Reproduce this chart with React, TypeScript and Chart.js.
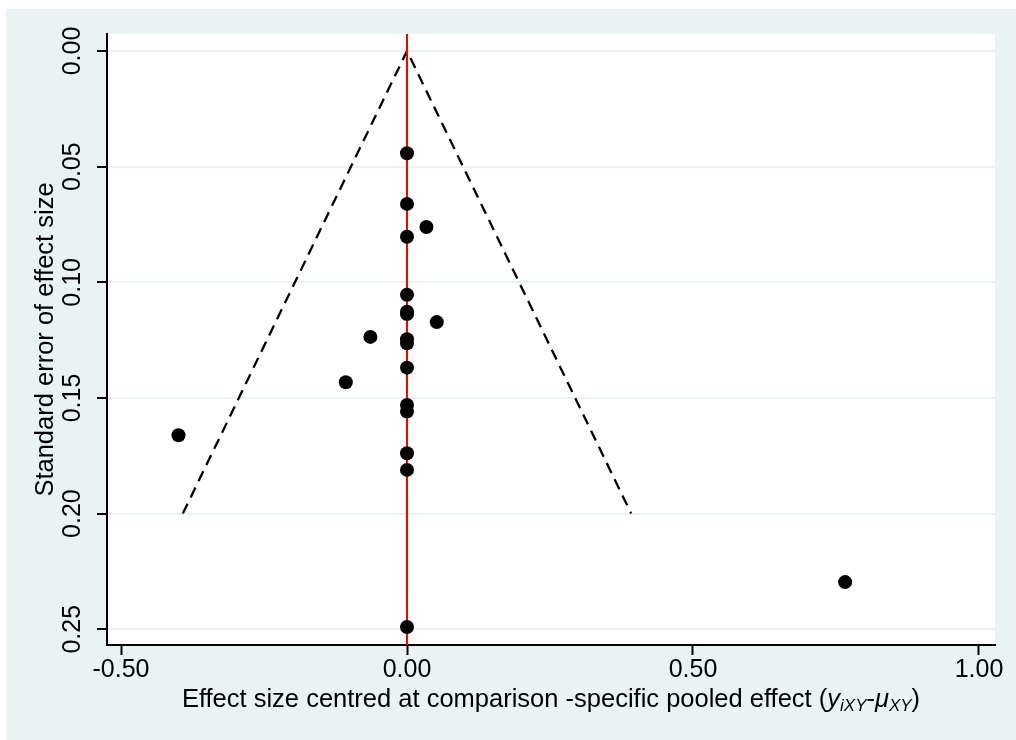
import React, { useEffect, useRef } from "react";
import { Chart, registerables } from "chart.js";

Chart.register(...registerables);

// Study-level points: centred effect size (x) and its standard error (y)
const effectSizes = [0, 0, 0.034, 0, 0, 0, 0, 0.052, -0.064, 0, 0, 0, -0.107, 0, 0, -0.3995, 0, 0, 0.766, 0];
const standardErrors = [0.0442, 0.0661, 0.0761, 0.0803, 0.1054, 0.1127, 0.1137, 0.1172, 0.1236, 0.1246, 0.1264, 0.1369, 0.1432, 0.153, 0.1559, 0.1661, 0.1739, 0.1811, 0.2296, 0.249];

// Pseudo 95% confidence funnel (±1.96·SE)
const funnelX = [-0.392, 0, 0.392];
const funnelY = [0.2, 0, 0.2];

// Axis ticks and ranges
const xTicks = [-0.5, 0, 0.5, 1.0];
const yTicks = [0, 0.05, 0.1, 0.15, 0.2, 0.25];
const xRange = [-0.5245, 1.028];
const yRange = [-0.00735, 0.2568];

const yTitle = "Standard error of effect size";
const xTitleParts = [
  { text: "Effect size centred at comparison -specific pooled effect (", italic: false, sub: false },
  { text: "y", italic: true, sub: false },
  { text: "iXY", italic: true, sub: true },
  { text: "-", italic: false, sub: false },
  { text: "μ", italic: true, sub: false },
  { text: "XY", italic: true, sub: true },
  { text: ")", italic: false, sub: false },
];

const FONT = '"Liberation Sans", Arial, sans-serif';
const OUTER_BG = "#eaf2f3";

const backgroundPlugin = {
  id: "stataBackground",
  beforeDraw(chart: any) {
    const { ctx, chartArea } = chart;
    ctx.save();
    ctx.fillStyle = "#ffffff";
    ctx.fillRect(0, 0, chart.width, chart.height);
    ctx.fillStyle = OUTER_BG;
    ctx.fillRect(6, 9, chart.width - 6, chart.height - 9);
    ctx.fillStyle = "#ffffff";
    ctx.fillRect(chartArea.left, chartArea.top, chartArea.right - chartArea.left, chartArea.bottom - chartArea.top);
    ctx.restore();
  },
};

const xTitlePlugin = {
  id: "richXTitle",
  afterDraw(chart: any) {
    const { ctx, chartArea } = chart;
    const mainSize = 25.5;
    const subSize = 17;
    const fontFor = (p: any) => `${p.italic ? "italic " : ""}${p.sub ? subSize : mainSize}px ${FONT}`;
    ctx.save();
    ctx.fillStyle = "#000000";
    ctx.textBaseline = "alphabetic";
    ctx.textAlign = "left";
    let total = 0;
    const widths = xTitleParts.map((p) => {
      ctx.font = fontFor(p);
      const w = ctx.measureText(p.text).width;
      total += w;
      return w;
    });
    let x = (chartArea.left + chartArea.right) / 2 - total / 2;
    const baseline = chartArea.bottom + 62;
    xTitleParts.forEach((p, i) => {
      ctx.font = fontFor(p);
      ctx.fillText(p.text, x, baseline + (p.sub ? 4 : 0));
      x += widths[i];
    });
    ctx.restore();
  },
};

export default function App() {
  const canvasRef = useRef<HTMLCanvasElement | null>(null);

  useEffect(() => {
    document.body.style.margin = "0";
    const canvas = canvasRef.current;
    if (!canvas) return;

    const points = effectSizes.map((x, i) => ({ x, y: standardErrors[i] }));
    const funnel = funnelX.map((x, i) => ({ x, y: funnelY[i] }));
    const zeroLine = [
      { x: 0, y: yRange[0] },
      { x: 0, y: yRange[1] },
    ];

    const chart = new Chart(canvas, {
      type: "scatter",
      data: {
        datasets: [
          {
            label: "Studies",
            data: points,
            backgroundColor: "#000000",
            borderColor: "#000000",
            borderWidth: 0,
            pointRadius: 7,
            pointHoverRadius: 7,
          },
          {
            label: "Zero line",
            data: zeroLine,
            showLine: true,
            borderColor: "#ff0000",
            borderWidth: 2,
            pointRadius: 0,
            fill: false,
          },
          {
            label: "Funnel",
            data: funnel,
            showLine: true,
            borderColor: "#000000",
            borderWidth: 2.3,
            borderDash: [11, 7],
            pointRadius: 0,
            fill: false,
            tension: 0,
          },
        ],
      },
      options: {
        responsive: false,
        animation: false,
        devicePixelRatio: 1,
        layout: { padding: { left: 0, top: 34, right: 21, bottom: 0 } },
        plugins: {
          legend: { display: false },
          tooltip: { enabled: false },
          title: { display: false },
        },
        scales: {
          x: {
            type: "linear",
            min: xRange[0],
            max: xRange[1],
            afterBuildTicks: (scale: any) => {
              scale.ticks = xTicks.map((v) => ({ value: v }));
            },
            afterFit: (scale: any) => {
              scale.height = 95;
            },
            ticks: {
              color: "#000000",
              font: { family: FONT, size: 25 },
              padding: 0,
              minRotation: 0,
              maxRotation: 0,
              autoSkip: false,
              callback: (v: any) => Number(v).toFixed(2),
            },
            grid: {
              drawOnChartArea: false,
              drawTicks: true,
              tickLength: 10,
              tickColor: "#000000",
              tickWidth: 2,
            },
            border: { display: true, color: "#000000", width: 2 },
            title: { display: false },
          },
          y: {
            type: "linear",
            reverse: true,
            min: yRange[0],
            max: yRange[1],
            afterBuildTicks: (scale: any) => {
              scale.ticks = yTicks.map((v) => ({ value: v }));
            },
            afterFit: (scale: any) => {
              scale.width = 107;
            },
            ticks: {
              color: "#000000",
              font: { family: FONT, size: 25 },
              padding: 0,
              minRotation: 90,
              maxRotation: 90,
              crossAlign: "center",
              autoSkip: false,
              callback: (v: any) => Number(v).toFixed(2),
            },
            grid: {
              drawOnChartArea: true,
              color: OUTER_BG,
              lineWidth: 2,
              drawTicks: true,
              tickLength: 10,
              tickColor: "#000000",
              tickWidth: 2,
            },
            border: { display: true, color: "#000000", width: 2 },
            title: {
              display: true,
              text: yTitle,
              color: "#000000",
              font: { family: FONT, size: 25.5 },
              padding: { top: 31, bottom: 0 },
            },
          },
        },
      },
      plugins: [backgroundPlugin, xTitlePlugin],
    } as any);

    return () => {
      chart.destroy();
    };
  }, []);

  return (
    <div style={{ width: 1016, height: 740 }}>
      <canvas ref={canvasRef} width={1016} height={740} style={{ display: "block" }} />
    </div>
  );
}
